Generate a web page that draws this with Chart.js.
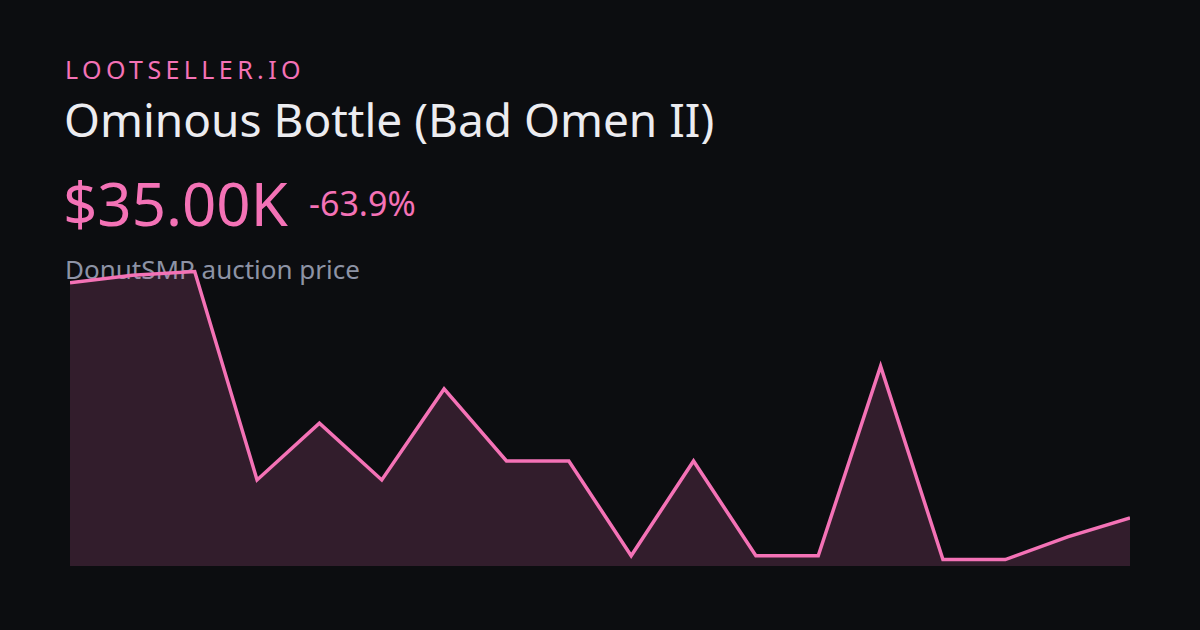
<!DOCTYPE html>
<html>
<head>
<meta charset="utf-8">
<script src="https://cdn.jsdelivr.net/npm/chart.js@4"></script>
<style>
  html, body { margin: 0; padding: 0; }
  body { width: 1200px; height: 630px; background: #0c0d10; position: relative; overflow: hidden; font-family: "Noto Sans", sans-serif; }
  .brand { position: absolute; left: 65px; top: 57px; font-size: 25px; letter-spacing: 4.4px; color: #f472b6; line-height: 1; }
  .title { position: absolute; left: 64px; top: 96px; font-size: 46px; color: #ececf0; line-height: 1; }
  .price { position: absolute; left: 63px; top: 173px; font-size: 60px; color: #f472b6; line-height: 1; }
  .change { position: absolute; left: 309px; top: 186px; font-size: 34px; color: #f472b6; line-height: 1; }
  .sub { position: absolute; left: 65px; top: 256px; font-size: 26px; color: #8d93a5; line-height: 1; }
  #wrap { position: absolute; left: 70px; top: 240px; width: 1060px; height: 326px; }
</style>
</head>
<body>
<div class="brand">LOOTSELLER.IO</div>
<div class="title">Ominous Bottle (Bad Omen II)</div>
<div class="price">$35.00K</div>
<div class="change">-63.9%</div>
<div class="sub">DonutSMP auction price</div>
<div id="wrap"><canvas id="viz"></canvas></div>
<script>
// price history, in thousands
const labels = ['1','2','3','4','5','6','7','8','9','10','11','12','13','14','15','16','17','18'];
const prices = [97, 99, 100, 45, 60, 45, 69, 50, 50, 25, 50, 25, 25, 75, 24, 24, 30, 35];

const ctx = document.getElementById('viz');
new Chart(ctx, {
  type: 'line',
  data: {
    labels: labels,
    datasets: [{
      data: prices,
      borderColor: '#f472b6',
      borderWidth: 3.5,
      backgroundColor: 'rgba(244,114,182,0.17)',
      fill: 'start',
      pointRadius: 0,
      tension: 0
    }]
  },
  options: {
    responsive: true,
    maintainAspectRatio: false,
    animation: false,
    layout: { padding: 0 },
    plugins: { legend: { display: false }, tooltip: { enabled: false } },
    scales: {
      x: { display: false, offset: false },
      y: { display: false, min: 22.3, max: 108.3 }
    }
  }
});
</script>
</body>
</html>
